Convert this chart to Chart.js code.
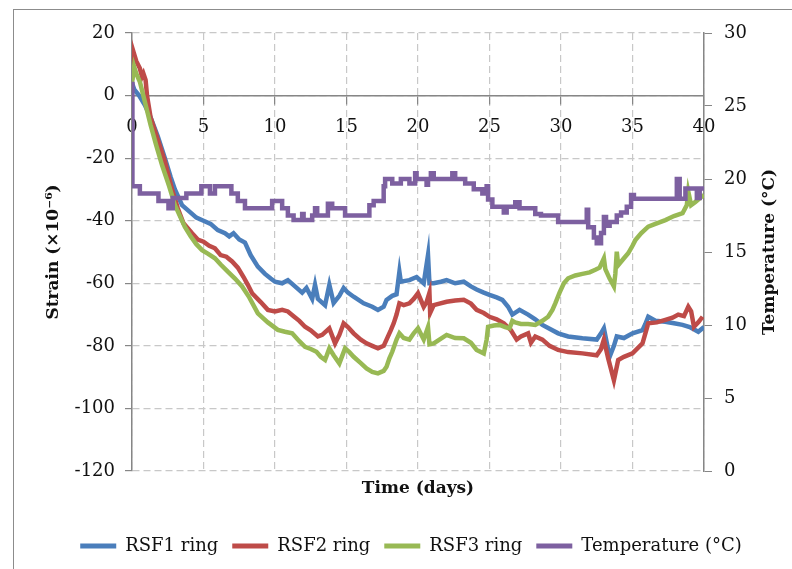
<!DOCTYPE html>
<html>
<head>
<meta charset="utf-8">
<title>Ring strain and temperature</title>
<script src="https://cdn.jsdelivr.net/npm/chart.js@4.4.0/dist/chart.umd.min.js"></script>
<style>
  html, body { margin: 0; padding: 0; background: #fff; }
  #wrap { position: relative; width: 792px; height: 569px; overflow: hidden; }
  #frame { position: absolute; left: 13px; top: 9px; right: 0; bottom: 0;
           border-top: 1.5px solid #8c8c8c; border-left: 1.5px solid #8c8c8c; }
  canvas { position: absolute; left: 0; top: 0; }
</style>
</head>
<body>
<div id="wrap">
  <div id="frame"></div>
  <canvas id="ringChart" width="792" height="569"></canvas>
</div>
<script>
// strain of the three rings (x10^-6) against time in days
const rsf1Days = [0, 0.15, 0.5, 0.9, 1.3, 1.8, 2.3, 2.7, 3.0, 3.5, 4.0, 4.5, 5.0, 5.5, 6.0, 6.5, 6.8, 7.1, 7.5, 7.9,
  8.3, 8.8, 9.3, 9.7, 10.0, 10.5, 10.9, 11.4, 11.9, 12.2, 12.6, 12.8, 13.0, 13.5, 13.8, 14.1, 14.5, 14.8, 15.1, 15.5,
  16.2, 16.8, 17.2, 17.6, 17.8, 18.2, 18.5, 18.7, 18.8, 19.4, 19.9, 20.4, 20.7, 20.8, 21.1, 21.6, 22.0, 22.6, 23.2, 23.7,
  24.1, 24.6, 25.0, 25.5, 25.9, 26.3, 26.6, 27.1, 27.7, 28.2, 28.7, 29.2, 29.8, 30.5, 31.5, 32.5, 32.8, 33.0, 33.2, 33.4,
  33.7, 33.9, 34.4, 35.0, 35.7, 35.9, 36.1, 36.6, 37.3, 37.9, 38.5, 39.0, 39.6, 40.0];
const rsf1Strain = [4, 2, 0, -3, -7, -13, -20, -26, -30, -35, -37, -39, -40, -41, -43, -44, -45, -44, -46, -47,
  -51, -54.7, -57, -58.5, -59.5, -60, -59, -61, -63, -61.5, -65, -60.5, -65, -67, -60.5, -66.3, -64, -61.5, -63, -64.3,
  -66.4, -67.5, -68.5, -67.5, -65.3, -64, -63.5, -56.3, -59.5, -59, -58, -60, -51, -60, -60, -59.5, -59, -60, -59.5, -61,
  -62, -63, -63.7, -64.5, -65.3, -67.5, -70, -68.5, -70, -71.5, -73.3, -74.5, -76, -77, -77.6, -78, -76, -74.4, -79, -83.5,
  -80, -77, -77.5, -76, -75, -73, -70.7, -72, -72.3, -72.8, -73.3, -74, -75.5, -74];

const rsf2Days = [0, 0.1, 0.3, 0.55, 0.7, 0.8, 0.95, 1.05, 1.3, 1.8, 2.3, 2.8, 3.2, 3.6, 4.2, 4.6, 5.0, 5.4, 5.8, 6.2,
  6.6, 7.0, 7.4, 7.8, 8.1, 8.4, 9.0, 9.5, 10.0, 10.5, 10.9, 11.3, 11.7, 12.1, 12.5, 13.0, 13.3, 13.8, 14.2, 14.5,
  14.8, 15.1, 15.5, 16.0, 16.4, 16.8, 17.2, 17.6, 17.8, 18.1, 18.3, 18.5, 18.7, 19.0, 19.4, 19.7, 20.0, 20.4, 20.6, 20.8,
  20.85, 21.1, 21.5, 22.0, 22.6, 23.2, 23.7, 24.1, 24.6, 25.0, 25.5, 26.0, 26.5, 26.9, 27.2, 27.7, 27.9, 28.2, 28.7, 29.2,
  29.8, 30.5, 31.5, 32.5, 32.8, 33.0, 33.3, 33.7, 34.0, 34.4, 35.0, 35.7, 35.9, 36.1, 36.7, 37.3, 37.8, 38.2, 38.6, 38.9,
  39.1, 39.3, 39.6, 39.9];
const rsf2Strain = [5, 14, 11, 8.7, 6, 7, 5, 0, -7, -14, -21, -30, -36, -40.8, -44, -46, -46.7, -48, -48.8, -51,
  -51.5, -53, -55, -58, -60.5, -63.2, -66, -68.5, -69, -68.5, -69, -70.5, -72, -73.9, -75, -77, -76.5, -74.4, -79.2, -76.5,
  -72.8, -74, -76, -78, -79.2, -80, -80.8, -80, -78, -75, -72.8, -70, -66.4, -67, -66.4, -65, -63.2, -67.5, -66, -63,
  -69.5, -67, -66.5, -65.9, -65.5, -65.3, -66.5, -68.5, -69.5, -70.7, -71.5, -72.8, -75, -78, -77, -76, -79, -77, -78, -80,
  -81.3, -82, -82.4, -83, -81, -78, -84, -91, -84.5, -83.5, -82.4, -79.2, -76, -72.8, -72.5, -71.7, -71, -70, -70.5, -67.5,
  -69, -73.9, -72.5, -70.7];

const rsf3Days = [0, 0.15, 0.3, 0.55, 0.9, 1.3, 1.7, 2.1, 2.6, 3.0, 3.4, 3.7, 4.1, 4.5, 4.9, 5.3, 5.8, 6.2, 6.7, 7.2,
  7.7, 8.2, 8.8, 9.5, 10.2, 10.7, 11.2, 11.7, 12.1, 12.5, 12.9, 13.2, 13.5, 13.8, 14.1, 14.5, 14.9, 15.2, 15.5, 16.0,
  16.4, 16.8, 17.2, 17.6, 17.8, 18.0, 18.2, 18.5, 18.7, 19.0, 19.4, 19.7, 20.0, 20.4, 20.7, 20.8, 21.1, 21.5, 22.0, 22.6,
  23.2, 23.7, 24.1, 24.6, 24.8, 24.9, 25.3, 25.7, 26.1, 26.4, 26.6, 26.8, 27.2, 27.7, 28.2, 28.7, 29.1, 29.4, 29.6, 29.9,
  30.2, 30.5, 31.0, 31.5, 32.0, 32.4, 32.7, 33.0, 33.1, 33.4, 33.7, 33.8, 33.9, 34.0, 34.4, 34.7, 35.0, 35.2, 35.6, 36.1,
  36.6, 37.3, 37.9, 38.5, 38.8, 38.9, 39.1, 39.4, 39.7, 40.0];
const rsf3Strain = [4, 9.2, 7, 4.4, -2, -9.4, -16, -22.2, -29, -35, -39, -42, -45, -47.5, -49.4, -50.5, -52, -54, -56.3, -58.5,
  -61, -64.5, -69.6, -72.5, -74.9, -75.5, -76, -78.5, -80.3, -81, -81.9, -83.5, -84.5, -80.8, -83, -85.6, -80.8, -82, -83.5, -85.5,
  -87.2, -88.3, -88.8, -88, -86.7, -84, -81.9, -78, -76, -77.5, -78, -76, -74.4, -78, -74, -79.5, -79.2, -78, -76.5, -77.5,
  -77.6, -79, -81.3, -82.4, -78, -73.9, -73.5, -73.3, -74, -74.4, -72, -72.5, -73, -73, -73.3, -72, -70.7, -68.5, -66.4, -63,
  -60, -58.4, -57.5, -57, -56.5, -55.7, -55, -52, -55.5, -58.5, -61, -57, -49.9, -54.2, -52, -50.4, -48, -46.2, -44, -41.9,
  -41, -39.8, -38.5, -37.6, -35, -30.7, -35, -34, -32.8, -31.8];

// room temperature, logged in steps: each value holds from its day until the next one
const tempDays = [0, 0.03, 0.55, 1.85, 2.55, 2.85, 3.8, 4.85, 5.45, 5.8, 6.95, 7.4, 7.9, 9.8, 10.5, 10.9, 11.3, 11.9, 12.0, 12.6,
  12.8, 12.95, 13.7, 14.0, 14.9, 16.6, 16.9, 17.6, 17.7, 18.2, 18.8, 19.4, 19.8, 19.9, 20.6, 20.7, 20.9, 21.1, 22.4, 22.6,
  23.3, 23.9, 24.5, 24.8, 24.9, 25.2, 26.0, 26.2, 26.8, 27.1, 28.2, 28.6, 29.8, 31.8, 31.9, 32.3, 32.5, 32.8, 33.0, 33.15,
  33.4, 33.9, 34.2, 34.6, 34.9, 35.1, 38.1, 38.3, 38.7, 39.5, 39.7, 40];
const tempValues = [26.5, 19.5, 19.0, 18.5, 18.0, 18.7, 19.0, 19.5, 19.0, 19.5, 19.0, 18.5, 18.0, 18.5, 18.0, 17.5, 17.2, 17.6, 17.2, 17.5,
  18.0, 17.5, 18.3, 18.0, 17.5, 18.2, 18.5, 19.5, 20.0, 19.7, 20.0, 19.7, 20.4, 20.0, 19.6, 20.0, 20.4, 20.0, 20.4, 20.0,
  19.7, 19.3, 19.0, 19.5, 18.6, 18.1, 17.7, 18.1, 18.4, 18.0, 17.6, 17.5, 17.05, 17.9, 16.7, 16.0, 15.6, 16.3, 17.4, 16.8,
  17.05, 17.5, 17.7, 18.1, 18.9, 18.65, 20.0, 18.65, 19.35, 18.7, 19.35, 19.35];

const dayTicks = [0, 5, 10, 15, 20, 25, 30, 35, 40];
const strainTicks = [-120, -100, -80, -60, -40, -20, 0, 20];
const tempTicks = [0, 5, 10, 15, 20, 25, 30];

const AXIS = '#868686';
const GRID = '#c8c8c8';
const TEXT = '#111111';
const FAMILY = '"DejaVu Serif", serif';

const toPoints = (days, vals) => days.map((d, i) => ({ x: d, y: vals[i] }));
const fixTicks = list => scale => { scale.ticks = list.map(v => ({ value: v })); };

const lineStyle = { borderWidth: 4.5, pointRadius: 0, tension: 0, fill: false };

// vertical title on the right axis, reading bottom to top like the left one
const rightTitle = {
  id: 'rightTitle',
  afterDraw(chart) {
    const { ctx, chartArea } = chart;
    const s = chart.scales.y2;
    ctx.save();
    ctx.translate(s.right - 22, (chartArea.top + chartArea.bottom) / 2);
    ctx.rotate(-Math.PI / 2);
    ctx.font = 'bold 17px ' + FAMILY;
    ctx.fillStyle = TEXT;
    ctx.textAlign = 'center';
    ctx.textBaseline = 'middle';
    ctx.fillText('Temperature (°C)', 0, 0);
    ctx.restore();
  }
};

new Chart(document.getElementById('ringChart'), {
  type: 'line',
  data: {
    datasets: [
      { ...lineStyle, label: 'RSF1 ring', data: toPoints(rsf1Days, rsf1Strain), borderColor: '#4A7EBB', yAxisID: 'y', order: 4 },
      { ...lineStyle, label: 'RSF2 ring', data: toPoints(rsf2Days, rsf2Strain), borderColor: '#BE4B48', yAxisID: 'y', order: 3 },
      { ...lineStyle, label: 'RSF3 ring', data: toPoints(rsf3Days, rsf3Strain), borderColor: '#98B954', yAxisID: 'y', order: 2 },
      { ...lineStyle, label: 'Temperature (°C)', data: toPoints(tempDays, tempValues), borderColor: '#7D60A0',
        yAxisID: 'y2', stepped: 'before', borderJoinStyle: 'miter', order: 1 }
    ]
  },
  options: {
    responsive: false,
    animation: false,
    devicePixelRatio: 1,
    events: [],
    layout: { padding: { left: 30, top: 33, right: 0, bottom: 4 } },
    plugins: {
      tooltip: { enabled: false },
      legend: {
        position: 'bottom',
        labels: {
          font: { family: FAMILY, size: 18 },
          color: TEXT,
          boxWidth: 36,
          boxHeight: 5,
          padding: 14,
          sort: (a, b) => a.datasetIndex - b.datasetIndex,
          generateLabels(chart) {
            const items = Chart.defaults.plugins.legend.labels.generateLabels(chart);
            items.forEach(it => { it.fillStyle = it.strokeStyle; it.lineWidth = 0; });
            return items;
          }
        }
      }
    },
    scales: {
      x: {
        type: 'linear',
        position: { y: 0 },
        min: 0, max: 40,
        afterBuildTicks: fixTicks(dayTicks),
        grid: { color: GRID, lineWidth: 1.2, tickColor: AXIS, tickLength: 8 },
        border: { color: AXIS, width: 1.5, dash: [7, 4] },
        ticks: { font: { family: FAMILY, size: 18 }, color: TEXT, padding: 13, maxRotation: 0, autoSkip: false }
      },
      xTitle: {
        type: 'linear',
        axis: 'x',
        position: 'bottom',
        min: 0, max: 40,
        grid: { display: false },
        border: { display: false },
        ticks: { display: false },
        title: { display: true, text: 'Time (days)', font: { family: FAMILY, size: 17, weight: 'bold' },
                 color: TEXT, padding: { top: 0, bottom: 24 } },
        afterFit: s => { s.height = 52; }
      },
      y: {
        position: 'left',
        min: -120, max: 20,
        afterBuildTicks: fixTicks(strainTicks),
        grid: { color: GRID, lineWidth: 1.2, tickColor: AXIS, tickLength: 7 },
        border: { color: AXIS, width: 1.5, dash: [7, 4] },
        ticks: { font: { family: FAMILY, size: 18 }, color: TEXT, padding: 10 },
        title: { display: true, text: 'Strain (×10⁻⁶)', font: { family: FAMILY, size: 17, weight: 'bold' },
                 color: TEXT, padding: { top: 13, bottom: 0 } },
        afterFit: s => { s.width = 102; }
      },
      y2: {
        position: 'right',
        min: 0, max: 30,
        afterBuildTicks: fixTicks(tempTicks),
        grid: { drawOnChartArea: false, tickColor: AXIS, tickLength: 8 },
        border: { color: AXIS, width: 1.5 },
        ticks: { font: { family: FAMILY, size: 18 }, color: TEXT, padding: 12 },
        afterFit: s => { s.width = 88; }
      }
    }
  },
  plugins: [rightTitle]
});
</script>
</body>
</html>
